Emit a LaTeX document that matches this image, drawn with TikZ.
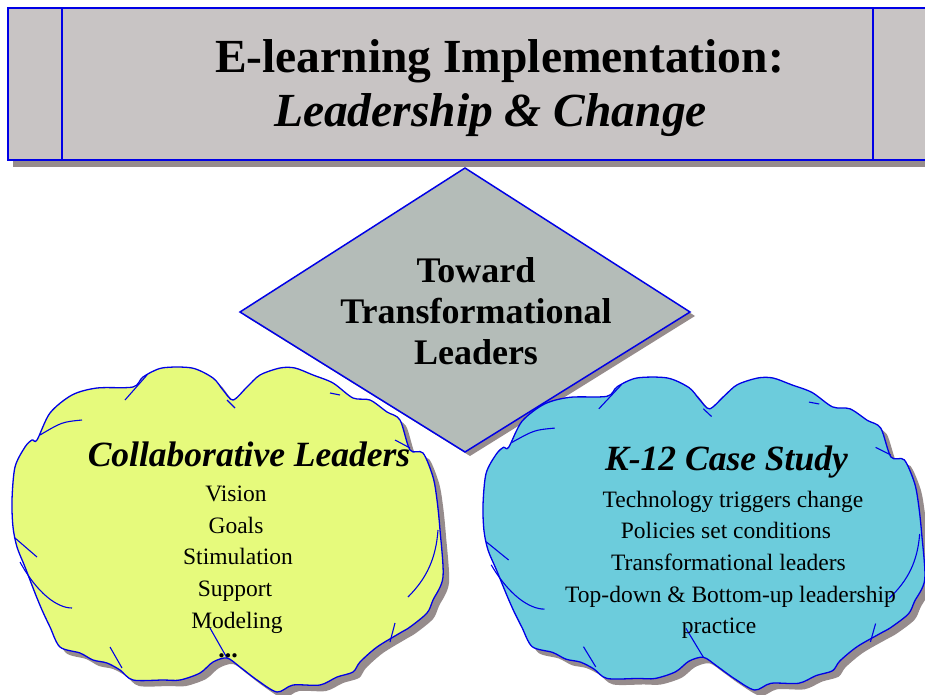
\documentclass[tikz,border=0pt]{standalone}
\usepackage{fontspec}
\setmainfont{Liberation Serif}

\definecolor{edgeblue}{RGB}{0,0,230}
\definecolor{shadowgray}{RGB}{150,140,140}
\definecolor{bannergray}{RGB}{200,196,196}
\definecolor{diamondgray}{RGB}{180,188,184}
\definecolor{lemon}{RGB}{230,250,124}
\definecolor{skycyan}{RGB}{108,204,220}

\tikzset{
  castshadow/.style args={#1/#2}{preaction={fill=shadowgray,
      transform canvas={xshift=#1pt, yshift=-#2pt}}},
  bubble/.pic={
    % outline
    \path[draw=edgeblue, line width=1.3pt, fill=#1, castshadow=6/6]
      plot[smooth cycle, tension=0.5] coordinates {
        (0,132) (3,99) (13,79) (20,72) (25,72) (38,45) (60,27) (85,20)
        (121,19) (131,9) (150,0) (180,0) (201,10) (211,22) (221,32)
        (235,19) (248,7) (268,0) (283,0) (301,7) (321,15) (341,30)
        (358,32) (375,44) (388,52) (398,82) (411,85) (421,109) (425,132)
        (428,162) (431,209) (421,232) (415,245) (398,259) (388,265)
        (365,279) (348,294) (341,304) (325,309) (308,317) (281,317)
        (265,324) (245,312) (228,299) (215,290) (201,294) (188,305)
        (168,312) (151,312) (121,312) (108,302) (95,295) (81,292)
        (68,285) (48,279) (38,259) (30,242) (23,225) (13,199) (5,179)
        (1,159)};
    % inner strokes
    \begin{scope}[edgeblue, line width=1.1pt]
    \draw (113,32) -- (135,7);
    \draw (215,32) -- (223,40);
    \draw (70,52) .. controls (50,54) .. (28,67);
    \draw (318,25) -- (328,27);
    \draw (383,72) -- (398,80);
    \draw (3,170) -- (25,189);
    \draw (8,194) .. controls (25,225) and (45,240) .. (60,240);
    \draw (426,162) .. controls (424,190) and (415,210) .. (396,229);
    \draw (383,255) -- (378,274);
    \draw (98,279) -- (110,300);
    \draw (198,260) -- (215,290);
    \end{scope}
  }
}

\begin{document}
\begin{tikzpicture}[x=1pt, y=-1pt]
\useasboundingbox (0,0) rectangle (925,695);

% banner
\coordinate (SW) at (8,160);
\coordinate (NE) at (940,8);
\coordinate (L1) at (62,8);
\coordinate (L2) at (62,160);
\coordinate (R1) at (873,8);
\coordinate (R2) at (873,160);
\draw[edgeblue, line width=2pt, fill=bannergray, castshadow=5/7] (SW) rectangle (NE);
\draw[edgeblue, line width=2pt] (L1) -- (L2);
\draw[edgeblue, line width=2pt] (R1) -- (R2);

\begin{scope}[every node/.style={anchor=base, inner sep=0pt,
    font=\fontsize{47.5}{54}\selectfont\bfseries}]
\node (title1) at (499.5,73) {E-learning Implementation:};
\node[font=\fontsize{47.5}{54}\selectfont\bfseries\itshape] (title2) at (490.5,127) {Leadership \& Change};
\end{scope}

% diamond
\coordinate (DN) at (465,168);
\coordinate (DE) at (690,312);
\coordinate (DS) at (465,452);
\coordinate (DW) at (240,312);
\draw[edgeblue, line width=1.5pt, fill=diamondgray, castshadow=5/4]
  (DN) -- (DE) -- (DS) -- (DW) -- cycle;
\node[align=center, inner sep=0pt, font=\fontsize{36}{41}\selectfont\bfseries]
  (toward) at (476,311) {Toward\\Transformational\\Leaders};

% clouds
\pic (leftcloud) at (12,368) {bubble=lemon};
\pic[xscale=1.025, yscale=0.963] (rightcloud) at (483,378) {bubble=skycyan};

% collaborative leaders
\begin{scope}[every node/.style={anchor=base, inner sep=0pt,
    font=\fontsize{23.5}{28}\selectfont}]
\node[font=\fontsize{35.5}{40}\selectfont\bfseries\itshape] (collab) at (249,466) {Collaborative Leaders};
\node (vision) at (236,501.5) {Vision};
\node (goals) at (236,533) {Goals};
\node (stim) at (238,564.5) {Stimulation};
\node (support) at (235,596.5) {Support};
\node (model) at (237,628) {Modeling};
\node[font=\fontsize{26}{28}\selectfont\bfseries] (dots) at (228,657) {...};
\end{scope}

% case study
\begin{scope}[every node/.style={anchor=base, inner sep=0pt,
    font=\fontsize{23.5}{28}\selectfont}]
\node[font=\fontsize{35.5}{40}\selectfont\bfseries\itshape] (k12) at (726.5,470) {K-12 Case Study};
\node (tech) at (733,507) {Technology triggers change};
\node (policy) at (726,538.5) {Policies set conditions};
\node (trans) at (728.5,570) {Transformational leaders};
\node (topdown) at (730.5,602) {Top-down \& Bottom-up leadership};
\node (practice) at (719,633) {practice};
\end{scope}

\end{tikzpicture}
\end{document}
